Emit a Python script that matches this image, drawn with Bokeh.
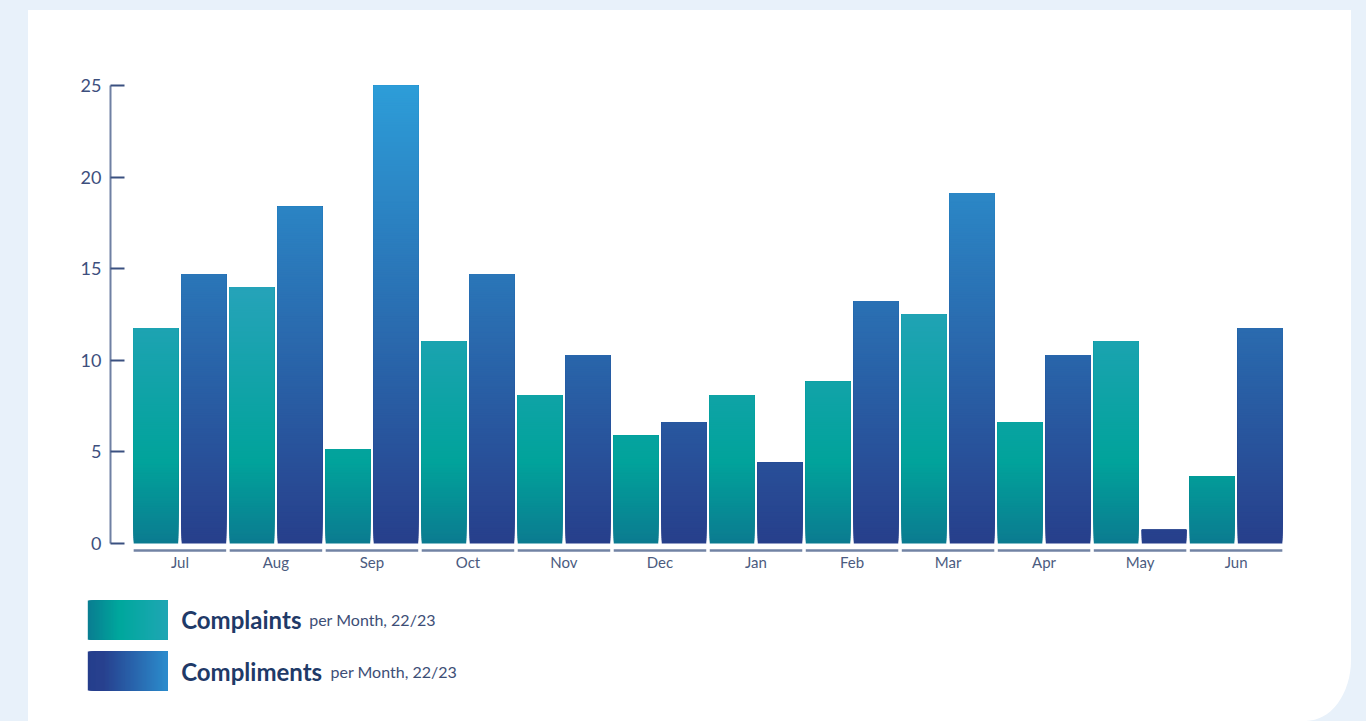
import math
from bokeh.plotting import figure
from bokeh.models import ColumnDataSource, Range1d, FixedTicker
from bokeh.layouts import column
from bokeh.embed import file_html
from bokeh.resources import INLINE
from bokeh.core.properties import value

# ---------------- data ----------------
months = ["Jul", "Aug", "Sep", "Oct", "Nov", "Dec", "Jan", "Feb", "Mar", "Apr", "May", "Jun"]
complaints = [11.76, 13.97, 5.15, 11.03, 8.09, 5.88, 8.09, 8.82, 12.50, 6.62, 11.03, 3.68]
compliments = [14.71, 18.38, 25.00, 14.71, 10.29, 6.62, 4.41, 13.24, 19.12, 10.29, 0.74, 11.76]
y_ticks = [0, 5, 10, 15, 20, 25]
series_names = ["Complaints", "Compliments"]
legend_note = "per Month, 22/23"

FONT = "Lato"

# ---------------- gradient helpers ----------------
def _rgb(h):
    return tuple(int(h[i:i + 2], 16) for i in (1, 3, 5))

def interp(stops, t):
    if t <= stops[0][0]:
        return stops[0][1]
    for (p0, c0), (p1, c1) in zip(stops[:-1], stops[1:]):
        if t <= p1:
            f = (t - p0) / (p1 - p0)
            a, b = _rgb(c0), _rgb(c1)
            return "#%02x%02x%02x" % tuple(round(a[i] + (b[i] - a[i]) * f) for i in range(3))
    return stops[-1][1]

# vertical gradients in data units (absolute over the y scale)
complaint_stops = [(0, "#0b7b90"), (4.5, "#01a39b"), (14, "#26a3b9"), (25, "#35a6d0")]
compliment_stops = [(0, "#273f8b"), (25, "#2d9dd8")]

def bar_strips(xs, vals, stops, step=0.1):
    d = dict(x=[], bottom=[], top=[], color=[])
    for x, v in zip(xs, vals):
        n = max(1, math.ceil(v / step - 1e-9))
        for k in range(n):
            b = k * step
            d["x"].append(x)
            d["bottom"].append(b)
            d["top"].append(v)
            d["color"].append(interp(stops, min(b + step / 2, v)))
    return d

idx = list(range(len(months)))
BAR_W = 0.4635
OFF = 0.25
W = 1323
BL, BR = 82, 46

p = figure(width=W, height=580,
           x_range=Range1d(-0.723, len(months) - 1 + 0.723),
           y_range=Range1d(-0.55, 25),
           output_backend="svg", toolbar_location=None,
           min_border_left=BL, min_border_right=BR, min_border_top=75, min_border_bottom=37,
           background_fill_color=None, border_fill_color=None, outline_line_color=None)
p.frame_align = False

src_c = ColumnDataSource(bar_strips([i - OFF for i in idx], complaints, complaint_stops))
src_p = ColumnDataSource(bar_strips([i + OFF for i in idx], compliments, compliment_stops))
p.vbar(x="x", width=BAR_W, bottom="bottom", top="top", fill_color="color",
       line_color=None, source=src_c)
p.vbar(x="x", width=BAR_W, bottom="bottom", top="top", fill_color="color",
       line_color=None, source=src_p)

# month underlines
half = OFF + BAR_W / 2
p.segment(x0=[i - half for i in idx], x1=[i + half for i in idx],
          y0=[-0.38] * len(idx), y1=[-0.38] * len(idx),
          line_color="#7283a4", line_width=2.5)

p.xgrid.visible = False
p.ygrid.visible = False

ya = p.yaxis[0]
ya.ticker = FixedTicker(ticks=y_ticks)
ya.bounds = (0, 25)
ya.axis_line_color = "#6f80a3"
ya.axis_line_width = 2
ya.major_tick_in = 14
ya.major_tick_out = 0
ya.major_tick_line_width = 2
ya.major_tick_line_color = "#3a5080"
ya.minor_tick_line_color = None
ya.major_label_text_font = FONT
ya.major_label_text_font_size = "18px"
ya.major_label_text_color = "#3d4f7d"
ya.major_label_standoff = 9

xa = p.xaxis[0]
xa.ticker = FixedTicker(ticks=idx)
xa.major_label_overrides = {i: m for i, m in zip(idx, months)}
xa.axis_line_color = None
xa.major_tick_line_color = None
xa.minor_tick_line_color = None
xa.major_label_text_font = FONT
xa.major_label_text_font_size = "15px"
xa.major_label_text_color = "#4b5b80"
xa.major_label_standoff = -7

# ---------------- legend ----------------
lg = figure(width=W, height=131, x_range=Range1d(0, W), y_range=Range1d(131, 0),
            output_backend="svg", toolbar_location=None, min_border=0,
            background_fill_color=None, border_fill_color=None, outline_line_color=None)
lg.frame_align = False
lg.axis.visible = False
lg.xgrid.visible = False
lg.ygrid.visible = False

h_stops = [
    [(0, "#0a7d91"), (0.4, "#00a89d"), (1, "#20a6b4")],
    [(0, "#263e8c"), (0.2, "#27418f"), (1, "#2c8dcd")],
]
box_x0, box_x1 = 59.3, 139.3
rows = [(10, 49.3, 29), (61, 100, 80.5)]
note_x = [280.7, 302]
for (top, bot, base), stops, name, nx in zip(rows, h_stops, series_names, note_x):
    n = 80
    d = dict(left=[], right=[], top=[], bottom=[], color=[])
    for k in range(n):
        d["left"].append(box_x0 + k * (box_x1 - box_x0) / n)
        d["right"].append(box_x1)
        d["top"].append(top)
        d["bottom"].append(bot)
        d["color"].append(interp(stops, (k + 0.5) / n))
    lg.quad(left="left", right="right", top="top", bottom="bottom", fill_color="color",
            line_color=None, source=ColumnDataSource(d))
    lg.text(x=[152.7], y=[base], text=[name], text_font=value(FONT), text_font_style="bold",
            text_font_size="24px", text_baseline="alphabetic", text_color="#1f3a68")
    lg.text(x=[nx], y=[base], text=[legend_note], text_font=value(FONT),
            text_font_size="16px", text_baseline="alphabetic", text_color="#3d4e76")

card = column(p, lg, width=W, height=711, margin=(10, 15, 0, 28),
              styles={"background-color": "#ffffff", "border-bottom-right-radius": "45px 61px"})
page = column(card, width=1366, height=721, styles={"background-color": "#e8f1fa"})

open("out.html", "w").write(file_html(page, INLINE))
